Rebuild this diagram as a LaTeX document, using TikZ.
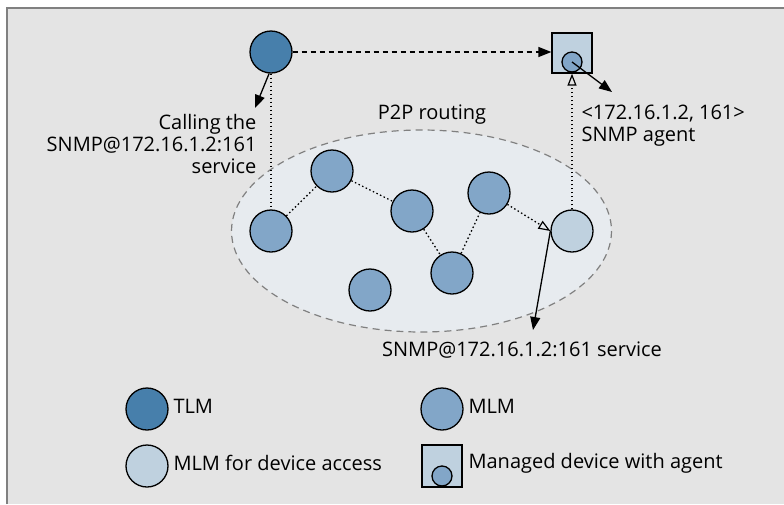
\documentclass[tikz,border=0pt]{standalone}
\usepackage{fontspec}
\setmainfont{Open Sans}
\usetikzlibrary{arrows.meta}
\definecolor{tlmblue}{HTML}{477FAB}
\definecolor{mlmblue}{HTML}{82A6C8}
\definecolor{accblue}{HTML}{BFD1DF}
\definecolor{panel}{HTML}{E4E4E4}
\definecolor{cloud}{HTML}{E7EBEF}
\begin{document}
\begin{tikzpicture}[x=1pt, y=-1pt, font=\fontsize{20}{22}\selectfont,
    peer/.style={circle, draw, line width=1.3pt, minimum size=42pt, inner sep=0pt},
    tlm/.style={peer, fill=tlmblue},
    mlm/.style={peer, fill=mlmblue},
    acc/.style={peer, fill=accblue},
    device/.style={draw, line width=1.3pt, fill=accblue, minimum size=40pt, inner sep=0pt},
    agent/.style={circle, draw, line width=1.3pt, fill=mlmblue, minimum size=20pt, inner sep=0pt},
    link/.style={line width=1.3pt, dash pattern=on 1.5pt off 2.5pt},
    tri/.style={-{Triangle[length=13pt, width=10pt]}},
    otri/.style={-{Triangle[open, length=12pt, width=9pt, line width=1.2pt]}}]
    \useasboundingbox (0, 0) rectangle (784, 504);
    \fill[panel] (6, 7) rectangle (784, 504);
    \draw[gray, line width=2pt] (6.5, 504) -- (6.5, 7.5) -- (784, 7.5);

    % overlay cloud
    \draw[gray, line width=1.2pt, dash pattern=on 7pt off 5pt, fill=cloud] (421.5, 231) ellipse [x radius=190, y radius=101];
    \node (p2p) at (432, 115) {P2P routing};

    \node[tlm] (tlm) at (271, 52) {};
    \node[device] (dev) at (572, 53) {};
    \node[agent] (agent) at (572, 62) {};

    \node[mlm] (n1) at (271, 231) {};
    \node[mlm] (n2) at (332, 171) {};
    \node[mlm] (n3) at (412, 211) {};
    \node[mlm] (n4) at (489, 193) {};
    \node[mlm] (n5) at (452, 273) {};
    \node[mlm] (n6) at (370, 290) {};
    \node[acc] (acc) at (572, 231) {};

    \draw[line width=1.3pt, dash pattern=on 5pt off 4pt, tri] (tlm) -- (tlm -| dev.west);
    \draw[link] (tlm) -- (n1);
    \draw[link] (n1) -- (n2);
    \draw[link] (n2) -- (n3);
    \draw[link] (n3) -- (n5);
    \draw[link] (n5) -- (n4);
    \draw[link, otri] (n4) -- (acc.west);
    \draw[link, otri] (acc) -- (dev);

    \node[anchor=east, align=right] (call) at (260, 144) {Calling the\\SNMP@172.16.1.2:161\\service};
    \node[anchor=west, align=left] (addr) at (578, 126) {<172.16.1.2, 161>\\SNMP agent};
    \node (svc) at (522, 350) {SNMP@172.16.1.2:161 service};
    \coordinate (callend) at (255, 108);
    \coordinate (addrend) at (612, 92);
    \coordinate (svcend) at (533, 330);
    \draw[line width=1.3pt, tri] (tlm.-95) -- (callend);
    \draw[line width=1.3pt, tri] (agent.center) -- (addrend);
    \draw[line width=1.3pt, tri] (acc.west) -- (svcend);

    % legend
    \node[tlm] (keytlm) at (147, 409) {};
    \node[anchor=west] (keytlmtxt) at (170, 406) {TLM};
    \node[mlm] (keymlm) at (442, 409) {};
    \node[anchor=west] (keymlmtxt) at (465, 406) {MLM};
    \node[acc] (keyacc) at (147, 466) {};
    \node[anchor=west] (keyacctxt) at (170, 463) {MLM for device access};
    \node[device, minimum height=42pt] (keydev) at (442, 466) {};
    \node[agent] (keyagent) at (442, 476) {};
    \node[anchor=west] (keydevtxt) at (465, 463) {Managed device with agent};
\end{tikzpicture}
\end{document}
